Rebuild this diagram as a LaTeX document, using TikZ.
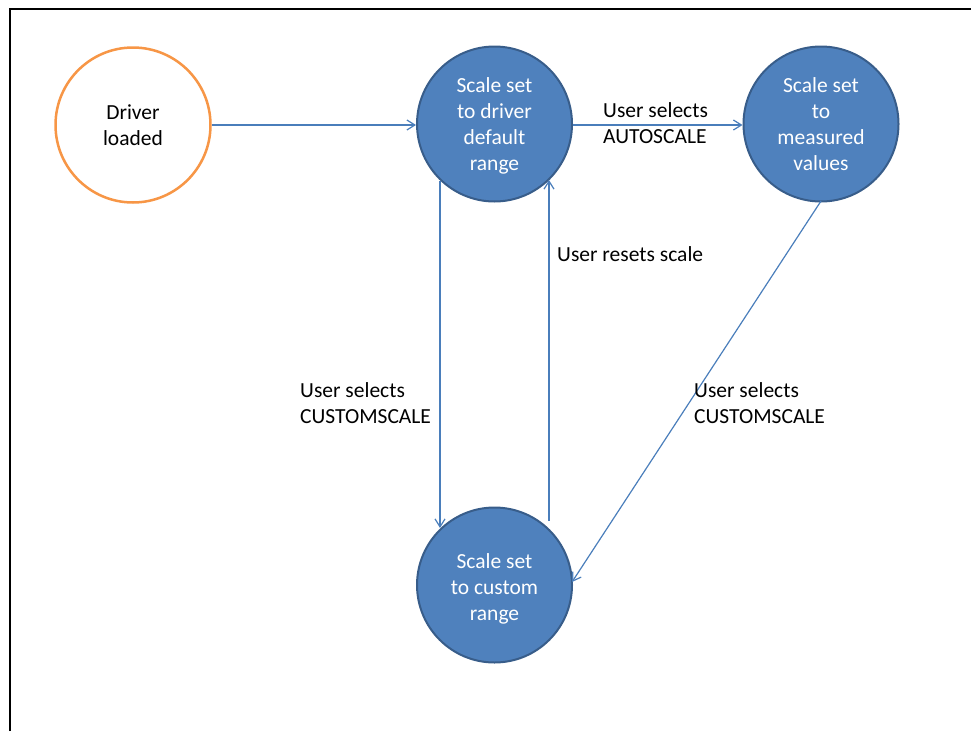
\documentclass[tikz,border=0pt]{standalone}
\usepackage{fontspec}
\setmainfont{Carlito}
\usetikzlibrary{arrows.meta}
\definecolor{bfill}{HTML}{4F81BD}
\definecolor{bdraw}{HTML}{385D8A}
\definecolor{oline}{HTML}{F79646}
\definecolor{aline}{HTML}{4A7EBB}
\begin{document}
\begin{tikzpicture}[x=1pt,y=-1pt,
  every node/.style={font=\fontsize{21.5}{26}\selectfont},
  state/.style={circle,minimum size=155pt,inner sep=0pt,fill=bfill,draw=bdraw,line width=2pt},
  statetext/.style={text=white,align=center,inner sep=0pt},
  start/.style={circle,minimum size=155pt,inner sep=0pt,fill=white,draw=oline,line width=2.5pt,text=black,align=center},
  conn/.style={draw=aline,line width=1.2pt,-{Straight Barb[length=8pt,width=10pt]}},
  lab/.style={align=left,anchor=west,inner sep=0pt}]
\useasboundingbox (0,0) rectangle (971,731);
\draw[line width=2pt] (10,731) -- (10,9) -- (971,9);
\node[start] (drv) at (133,125) {Driver\\loaded};
\node[state,label={[statetext,yshift=-2pt]center:Scale set\\to driver\\default\\range}] (def) at (494.5,124) {};
\node[state,label={[statetext]center:Scale set\\to\\measured\\values}] (meas) at (821,124) {};
\node[state,label={[statetext,yshift=-4pt]center:Scale set\\to custom\\range}] (cust) at (494.5,585) {};
\draw[conn] (drv.east |- 0,125) -- (def.west |- 0,125);
\draw[conn] (def.east |- 0,125) -- (meas.west |- 0,125);
\coordinate (d1) at (440,181);
\coordinate (d2) at (440,528);
\draw[conn] (d1) -- (d2);
\coordinate (u1) at (549,521);
\coordinate (u2) at (549,180);
\draw[conn] (u1) -- (u2);
\coordinate (m1) at (821,201);
\coordinate (m2) at (572,582);
\draw[conn] (m1) -- (m2);
\node[lab] (l1) at (603,123) {User selects\\AUTOSCALE};
\node[lab] (l2) at (557,254) {User resets scale};
\node[lab] (l3) at (300,403) {User selects\\CUSTOMSCALE};
\node[lab] (l4) at (694,403) {User selects\\CUSTOMSCALE};
\end{tikzpicture}
\end{document}
